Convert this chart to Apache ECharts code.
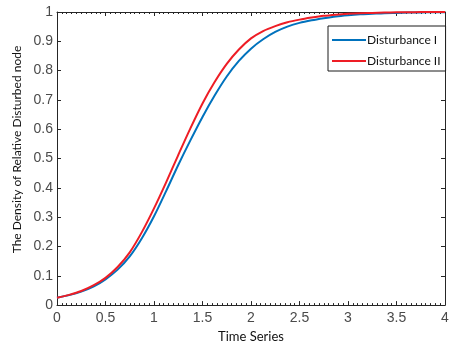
<!DOCTYPE html>
<html>
<head>
<meta charset="utf-8">
<style>
  html, body { margin: 0; padding: 0; background: #fff; }
  #chart { width: 452px; height: 348px; }
</style>
<script src="https://cdn.jsdelivr.net/npm/echarts@6/dist/echarts.min.js"></script>
</head>
<body>
<div id="chart"></div>
<script>
// values
const timeSeries = [
  0, 0.125, 0.25, 0.375, 0.5, 0.625, 0.75, 0.875, 1, 1.125, 1.25, 1.375, 1.5, 1.625, 1.75, 1.875,
  2, 2.125, 2.25, 2.375, 2.5, 2.625, 2.75, 2.875, 3, 3.125, 3.25, 3.375, 3.5, 3.625, 3.75, 3.875, 4,
];
const disturbance1 = [
  0.025, 0.034, 0.046, 0.063, 0.088, 0.121, 0.166, 0.228, 0.303, 0.389, 0.478, 0.562, 0.642, 0.715, 0.78, 0.833,
  0.875, 0.907, 0.932, 0.95, 0.963, 0.972, 0.979, 0.985, 0.989, 0.992, 0.994, 0.996, 0.997, 0.998, 0.9985, 0.999, 0.9993,
];
const disturbance2 = [
  0.025, 0.035, 0.048, 0.067, 0.093, 0.13, 0.18, 0.249, 0.33, 0.419, 0.512, 0.603, 0.688, 0.761, 0.823, 0.872,
  0.91, 0.935, 0.952, 0.965, 0.974, 0.981, 0.987, 0.991, 0.994, 0.996, 0.997, 0.998, 0.999, 0.9993, 0.9996, 0.9998, 1.0,
];
const seriesNames = ["Disturbance I", "Disturbance II"];
const xTicks = [0, 0.5, 1, 1.5, 2, 2.5, 3, 3.5, 4];

const axisColor = "#262626";
const labelColor = "#4a4a4a";

const chart = echarts.init(document.getElementById("chart"), null, { renderer: "canvas" });

const toPairs = (ys) => timeSeries.map((t, i) => [t, ys[i]]);

// ticks pointing into the plot, like matlab
const majorTick = { show: true, inside: false, length: -4, lineStyle: { color: axisColor } };
const minorTick = { show: true, splitNumber: 10, length: -2, lineStyle: { color: axisColor } };

const frameAxis = {
  axisLine: { show: true, onZero: false, lineStyle: { color: axisColor, width: 1 } },
  splitLine: { show: false },
  axisTick: majorTick,
};

chart.setOption({
  animation: false,
  backgroundColor: "#fff",
  grid: { left: 57, right: 7, top: 12, bottom: 40 },
  legend: {
    orient: "vertical",
    left: 328,
    top: 26,
    padding: [8, 5, 4, 4],
    itemGap: 9,
    itemWidth: 34,
    itemHeight: 2,
    icon: "rect",
    backgroundColor: "#fff",
    borderColor: "#1a1a1a",
    borderWidth: 1,
    borderRadius: 0,
    textStyle: { fontFamily: "Lato", fontSize: 12, color: "#111", padding: [0, 0, 0, -4] },
    data: seriesNames,
  },
  xAxis: [
    {
      ...frameAxis,
      type: "value",
      min: 0,
      max: 4,
      interval: 0.5,
      position: "bottom",
      name: "Time Series",
      nameLocation: "middle",
      nameGap: 24,
      nameTextStyle: { fontFamily: "Lato", fontSize: 13, color: "#111" },
      minorTick: minorTick,
      axisLabel: {
        margin: 6,
        fontFamily: "Liberation Sans",
        fontSize: 14,
        color: labelColor,
        customValues: xTicks,
        formatter: (v) => String(v),
      },
    },
    {
      ...frameAxis,
      type: "value",
      min: 0,
      max: 4,
      interval: 0.5,
      position: "top",
      minorTick: minorTick,
      axisLabel: { show: false },
    },
  ],
  yAxis: [
    {
      ...frameAxis,
      type: "value",
      min: 0,
      max: 1,
      interval: 0.1,
      position: "left",
      name: "The Density of Relative Disturbed node",
      nameLocation: "middle",
      nameGap: 31,
      nameTextStyle: { fontFamily: "Lato", fontSize: 12, color: "#111", padding: [0, 0, 0, 18] },
      axisLabel: {
        margin: 4,
        fontFamily: "Liberation Sans",
        fontSize: 14,
        color: labelColor,
        formatter: (v) => String(Math.round(v * 10) / 10),
      },
    },
    {
      ...frameAxis,
      type: "value",
      min: 0,
      max: 1,
      interval: 0.1,
      position: "right",
      axisLabel: { show: false },
    },
  ],
  series: [
    {
      name: seriesNames[0],
      type: "line",
      smooth: 0.3,
      symbol: "none",
      data: toPairs(disturbance1),
      lineStyle: { color: "#0072bd", width: 2 },
      itemStyle: { color: "#0072bd" },
    },
    {
      name: seriesNames[1],
      type: "line",
      smooth: 0.3,
      symbol: "none",
      data: toPairs(disturbance2),
      lineStyle: { color: "#ee1d25", width: 2 },
      itemStyle: { color: "#ee1d25" },
    },
  ],
});
</script>
</body>
</html>
